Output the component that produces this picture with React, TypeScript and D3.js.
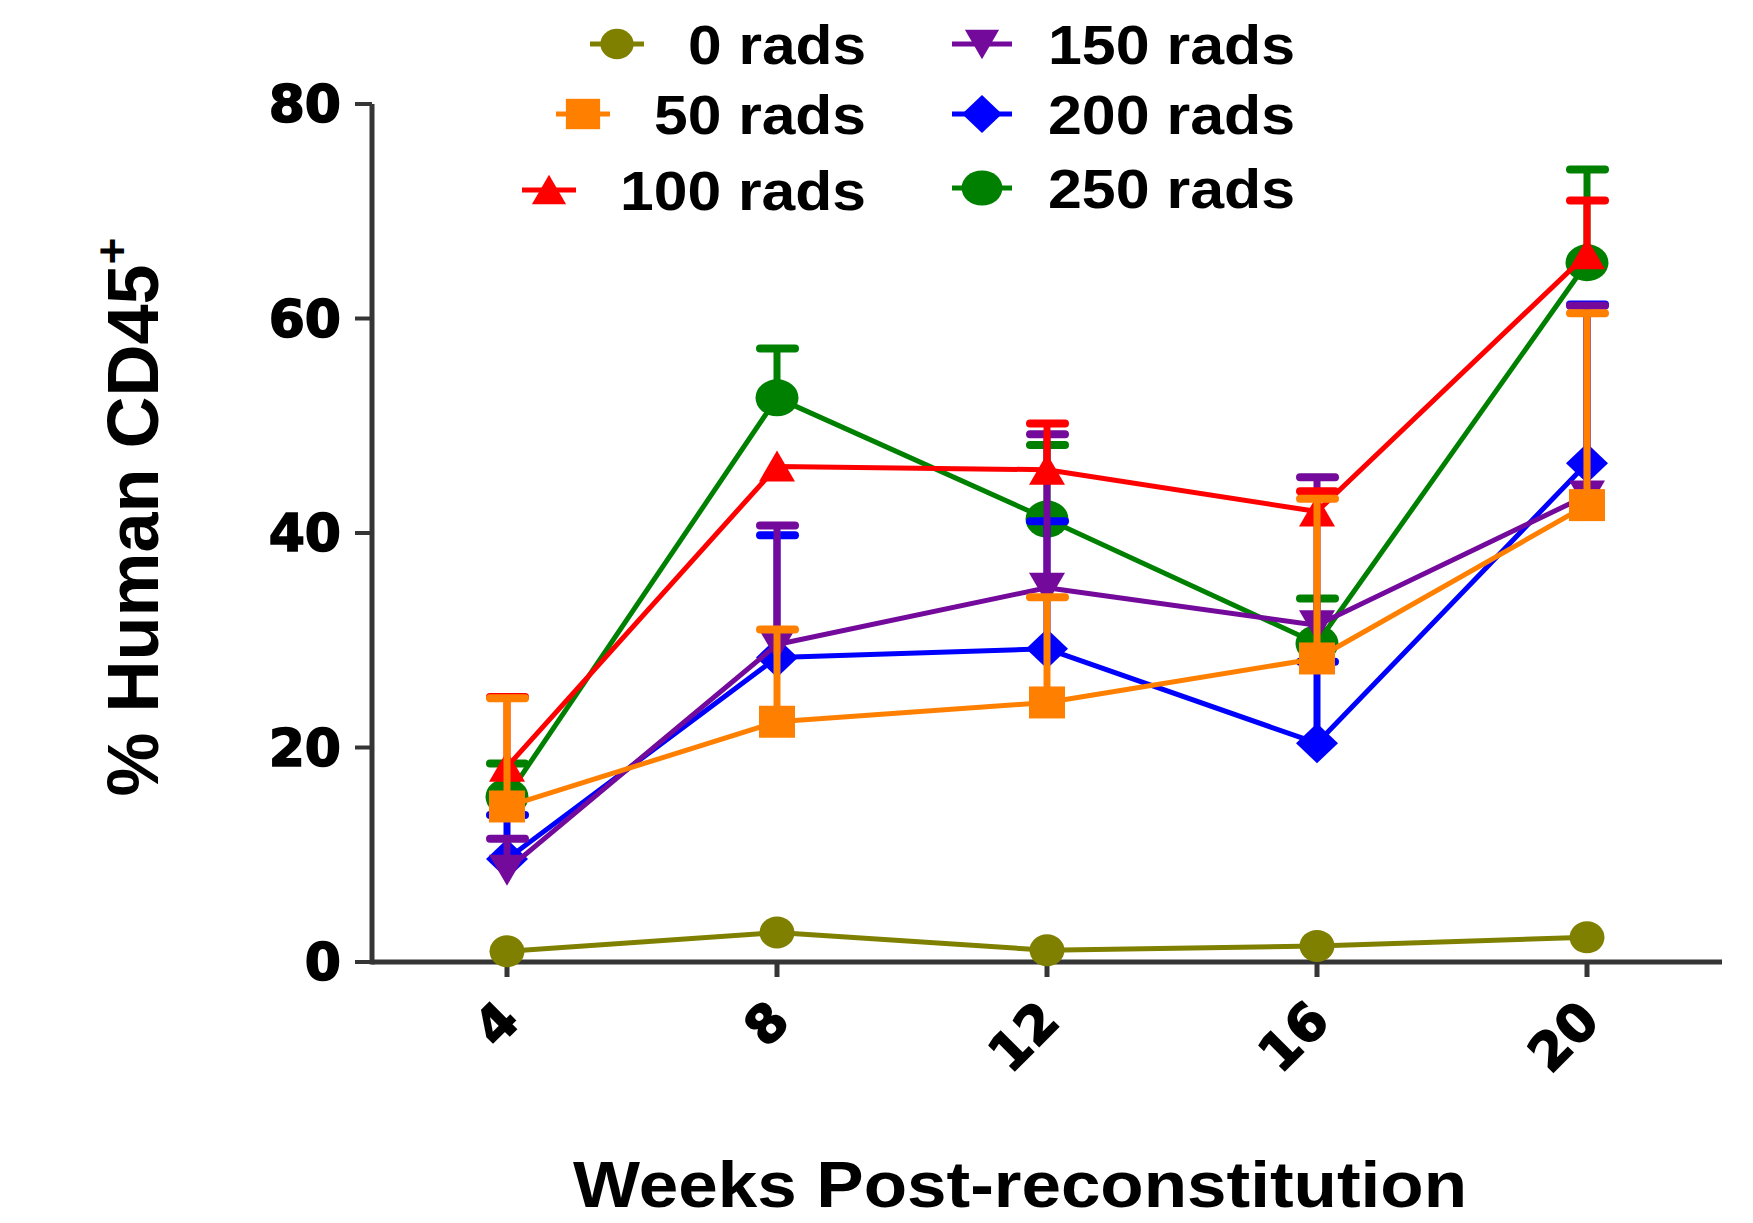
import React from 'react';
import * as d3 from 'd3';

const weeks = [4, 8, 12, 16, 20];
const weekLabels = ['4', '8', '12', '16', '20'];
const yTicks = [0, 20, 40, 60, 80];

const seriesNames = ['0 rads', '50 rads', '100 rads', '150 rads', '200 rads', '250 rads'];
const seriesColors = ['#808000', '#FF8000', '#FF0000', '#740A9B', '#0000FF', '#008000'];
const seriesShapes = ['smallCircle', 'square', 'triangleUp', 'triangleDown', 'diamond', 'circle'];

const mean0 = [1.0, 2.75, 1.1, 1.5, 2.3];
const mean50 = [14.5, 22.4, 24.2, 28.3, 42.6];
const mean100 = [18.2, 46.2, 45.9, 42.0, 66.0];
const mean150 = [8.6, 29.6, 34.9, 31.4, 43.5];
const mean200 = [9.6, 28.4, 29.2, 20.4, 46.5];
const mean250 = [15.4, 52.6, 41.3, 29.7, 65.2];

const sem0 = [0, 0, 0, 0, 0];
const sem50 = [10.1, 8.6, 9.8, 14.9, 17.9];
const sem100 = [6.5, 0, 4.3, 1.9, 5.0];
const sem150 = [2.9, 11.1, 14.3, 13.8, 17.7];
const sem200 = [4.1, 11.4, 11.9, 7.6, 14.8];
const sem250 = [3.1, 4.6, 6.9, 4.2, 8.7];

const means = [mean0, mean50, mean100, mean150, mean200, mean250];
const sems = [sem0, sem50, sem100, sem150, sem200, sem250];

const W = 1753;
const H = 1223;
const AXIS = '#353535';
const TITLE_FONT = '"Liberation Sans", Arial, sans-serif';
const TICK_FONT = '"DejaVu Sans", sans-serif';

const x = d3.scaleLinear().domain([2, 22]).range([372, 1722]);
const y = d3.scaleLinear().domain([0, 80]).range([962, 104]);

function Marker({ shape, cx, cy, color, k = 1 }: { shape: string; cx: number; cy: number; color: string; k?: number }) {
  switch (shape) {
    case 'smallCircle':
      return <ellipse cx={cx} cy={cy} rx={17.5 * k} ry={16 * k} fill={color} />;
    case 'circle':
      return <ellipse cx={cx} cy={cy} rx={21.5 * k} ry={18.5 * k} fill={color} />;
    case 'square':
      return <rect x={cx - 18 * k} y={cy - 16 * k} width={36 * k} height={32 * k} fill={color} />;
    case 'triangleUp':
      return (
        <polygon
          points={`${cx},${cy - 16 * k} ${cx + 18 * k},${cy + 15 * k} ${cx - 18 * k},${cy + 15 * k}`}
          fill={color}
        />
      );
    case 'triangleDown':
      return (
        <polygon
          points={`${cx - 18 * k},${cy - 15 * k} ${cx + 18 * k},${cy - 15 * k} ${cx},${cy + 16 * k}`}
          fill={color}
        />
      );
    case 'diamond':
      return (
        <polygon
          points={`${cx},${cy - 20 * k} ${cx + 21 * k},${cy} ${cx},${cy + 20 * k} ${cx - 21 * k},${cy}`}
          fill={color}
        />
      );
    default:
      return null;
  }
}

const legendLeft = [0, 1, 2];
const legendRight = [3, 4, 5];
const legendLeftBaselines = [64, 134, 210];
const legendRightBaselines = [64, 134, 208];
const legendLeftWidths = [178, 212, 246];
const legendRightWidths = [247, 247, 247];

export default function App() {
  const line = d3
    .line<[number, number]>()
    .x((d) => x(d[0]))
    .y((d) => y(d[1]));

  const order = d3.range(seriesNames.length).reverse();

  return (
    <svg width={W} height={H} style={{ position: 'absolute', left: 0, top: 0, background: '#fff' }}>
      <rect x={0} y={0} width={W} height={H} fill="#fff" />

      {/* Axes */}
      <line x1={x(2)} x2={x(22)} y1={y(0)} y2={y(0)} stroke={AXIS} strokeWidth={5} />
      <line x1={x(2)} x2={x(2)} y1={y(0) + 2.5} y2={y(80)} stroke={AXIS} strokeWidth={5} />
      {yTicks.map((t) => (
        <g key={'yt' + t}>
          <line x1={x(2) - 17} x2={x(2)} y1={y(t)} y2={y(t)} stroke={AXIS} strokeWidth={4} />
          <text
            x={x(2) - 31}
            y={y(t)}
            textAnchor="end"
            dominantBaseline="central"
            fontFamily={TICK_FONT}
            fontWeight="bold"
            fontSize={52}
            stroke="#000"
            strokeWidth={1.6}
            fill="#000"
          >
            {t}
          </text>
        </g>
      ))}
      {weeks.map((w, i) => (
        <g key={'xt' + w}>
          <line x1={x(w)} x2={x(w)} y1={y(0)} y2={y(0) + 15} stroke={AXIS} strokeWidth={5} />
          <text
            transform={`translate(${x(w) + 2},${1011}) rotate(-45)`}
            textAnchor="end"
            dominantBaseline="central"
            fontFamily={TICK_FONT}
            fontWeight="bold"
            fontSize={52}
            stroke="#000"
            strokeWidth={1.6}
            fill="#000"
          >
            {weekLabels[i]}
          </text>
        </g>
      ))}

      {/* Axis titles */}
      <text
        x={1020}
        y={1207}
        textAnchor="middle"
        fontFamily={TITLE_FONT}
        fontWeight="bold"
        fontSize={64}
        textLength={894}
        lengthAdjust="spacingAndGlyphs"
        fill="#000"
      >
        Weeks Post-reconstitution
      </text>
      <text
        transform={`translate(158,517) rotate(-90)`}
        textAnchor="middle"
        fontFamily={TITLE_FONT}
        fontWeight="bold"
        fontSize={72}
        fill="#000"
      >
        % Human CD45
        <tspan fontSize={46} dy={-30}>
          +
        </tspan>
      </text>

      {/* Series */}
      {order.map((s) => {
        const pts: [number, number][] = weeks.map((w, i) => [w, means[s][i]]);
        const color = seriesColors[s];
        return (
          <g key={'s' + s}>
            <path d={line(pts) || ''} fill="none" stroke={color} strokeWidth={5} strokeLinejoin="round" />
            {weeks.map((w, i) =>
              sems[s][i] > 0 ? (
                <g key={'e' + i}>
                  <line
                    x1={x(w)}
                    x2={x(w)}
                    y1={y(means[s][i])}
                    y2={y(means[s][i] + sems[s][i])}
                    stroke={color}
                    strokeWidth={7}
                  />
                  <line
                    x1={x(w) - 17}
                    x2={x(w) + 18}
                    y1={y(means[s][i] + sems[s][i])}
                    y2={y(means[s][i] + sems[s][i])}
                    stroke={color}
                    strokeWidth={8}
                    strokeLinecap="round"
                  />
                </g>
              ) : null
            )}
            {weeks.map((w, i) => (
              <Marker key={'m' + i} shape={seriesShapes[s]} cx={x(w)} cy={y(means[s][i])} color={color} />
            ))}
          </g>
        );
      })}

      {/* Legend */}
      {legendLeft.map((s, r) => {
        const end = 866;
        const start = end - legendLeftWidths[r];
        const mx = start - 71;
        const my = legendLeftBaselines[r] - 20;
        return (
          <g key={'ll' + s}>
            <line x1={mx - 27} x2={mx + 27} y1={my} y2={my} stroke={seriesColors[s]} strokeWidth={5} />
            <Marker shape={seriesShapes[s]} cx={mx} cy={my} color={seriesColors[s]} k={0.95} />
            <text
              x={end}
              y={legendLeftBaselines[r]}
              textAnchor="end"
              fontFamily={TITLE_FONT}
              fontWeight="bold"
              fontSize={56}
              textLength={legendLeftWidths[r]}
              lengthAdjust="spacingAndGlyphs"
              fill="#000"
            >
              {seriesNames[s]}
            </text>
          </g>
        );
      })}
      {legendRight.map((s, r) => {
        const start = 1048;
        const mx = 982;
        const my = legendRightBaselines[r] - 20;
        return (
          <g key={'lr' + s}>
            <line x1={mx - 30} x2={mx + 30} y1={my} y2={my} stroke={seriesColors[s]} strokeWidth={5} />
            <Marker shape={seriesShapes[s]} cx={mx} cy={my} color={seriesColors[s]} k={0.95} />
            <text
              x={start}
              y={legendRightBaselines[r]}
              textAnchor="start"
              fontFamily={TITLE_FONT}
              fontWeight="bold"
              fontSize={56}
              textLength={legendRightWidths[r]}
              lengthAdjust="spacingAndGlyphs"
              fill="#000"
            >
              {seriesNames[s]}
            </text>
          </g>
        );
      })}
    </svg>
  );
}
